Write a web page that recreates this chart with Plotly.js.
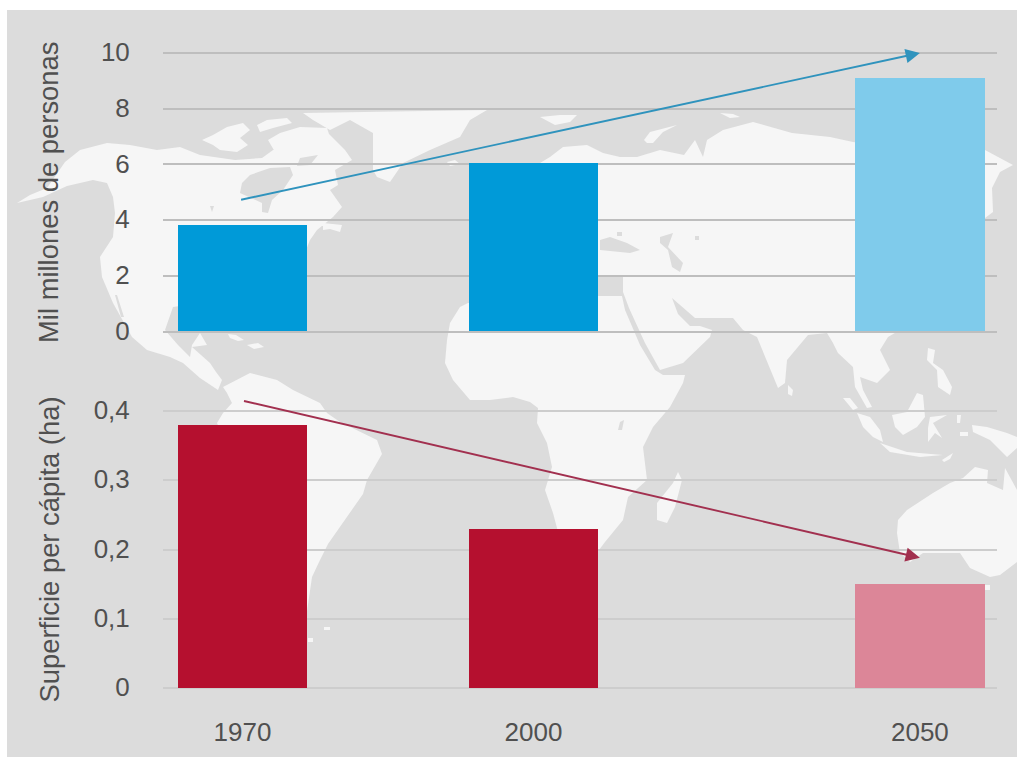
<!DOCTYPE html>
<html lang="es">
<head>
<meta charset="utf-8">
<title>Población y superficie per cápita</title>
<script src="https://cdn.plot.ly/plotly-3.0.1.min.js"></script>
<style>html,body{margin:0;padding:0;background:#fff}#chart{width:1017px;height:757px}</style>
</head>
<body>
<div id="chart"></div>
<script>
// Chart data
const years = ["1970", "2000", "2050"];
const population = [3.8, 6.05, 9.1];
const areaPerCapita = [0.38, 0.23, 0.15];
const populationColors = ["#009ad8", "#009ad8", "#7fcbeb"];
const areaColors = ["#b5102f", "#b5102f", "#dc8698"];
const populationTicks = [0, 2, 4, 6, 8, 10];
const areaTicks = [0, 0.1, 0.2, 0.3, 0.4];
const areaTickText = ["0", "0,1", "0,2", "0,3", "0,4"];
const populationTitle = "Mil millones de personas";
const areaTitle = "Superficie per cápita (ha)";

// Trend arrows, in axis units: [slot, value] at tail and tip
const populationTrend = [[-0.01, 4.72], [2.328, 10]];
const areaTrend = [[0, 0.415], [2.328, 0.188]];

// World map outlines, on a 1017 x 757 backdrop grid
const northAmerica = [[17,203],[30,195],[47,188],[65,162],[80,150],[107,143],[130,145],[157,150],[180,147],[200,155],[235,160],[262,158],[280,145],[300,133],[325,130],[345,150],[352,160],[335,170],[338,185],[330,190],[342,207],[333,217],[317,230],[310,240],[290,290],[173,307],[165,330],[178,345],[190,357],[192,345],[200,333],[207,345],[192,347],[207,360],[210,363],[216,372],[222,380],[218,390],[200,378],[183,363],[170,357],[147,350],[132,337],[113,303],[102,277],[100,257],[113,237],[115,213],[113,197],[107,183],[93,180],[67,186],[43,197]];
const greenland = [[303,113],[370,112],[487,110],[470,120],[460,137],[430,150],[403,163],[390,182],[377,177],[373,170],[373,133],[350,120],[330,130],[313,120]];
const arcticIslands = [
  [[202,140],[213,135],[227,127],[243,123],[250,130],[240,138],[248,145],[237,152],[220,150],[213,145]],
  [[257,125],[267,120],[287,118],[292,123],[273,128],[260,132]],
  [[268,140],[280,133],[300,127],[327,128],[330,137],[320,142],[337,150],[350,157],[337,163],[320,163],[310,150],[297,158],[275,152]],
  [[323,223],[342,225],[340,232],[330,229],[323,230]],
  [[228,334],[236,335],[244,340],[238,341],[230,338]],
  [[247,345],[258,343],[264,347],[254,349]]
];
const southAmerica = [[223,387],[237,380],[250,373],[277,380],[293,390],[320,403],[327,413],[340,422],[377,440],[382,454],[367,480],[363,494],[347,517],[328,544],[320,560],[312,577],[305,625],[290,625],[250,500],[217,423],[223,413],[232,403],[227,393]];
const africa = [[447,340],[450,323],[460,307],[468,303],[590,296],[622,296],[625,310],[640,345],[655,370],[663,375],[685,375],[683,383],[670,407],[653,427],[643,447],[647,480],[628,497],[623,520],[605,542],[590,562],[565,570],[557,528],[553,513],[545,490],[552,467],[547,443],[537,423],[538,408],[530,402],[513,397],[490,400],[470,400],[453,380],[445,363]];
const eurasia = [[550,157],[563,147],[587,145],[603,153],[620,157],[637,157],[660,150],[684,155],[695,140],[703,157],[707,140],[723,130],[753,122],[783,130],[792,133],[830,137],[853,142],[920,150],[985,150],[1013,165],[1000,172],[992,188],[993,212],[985,218],[960,260],[930,300],[900,330],[888,337],[880,350],[890,370],[877,383],[860,377],[863,390],[872,407],[867,408],[855,387],[853,367],[838,353],[833,343],[827,333],[808,335],[787,360],[785,383],[778,388],[768,363],[757,337],[743,330],[733,318],[714,318],[695,318],[672,298],[678,314],[690,326],[700,326],[712,330],[710,337],[683,363],[660,370],[645,343],[629,308],[623,292],[623,277],[597,277],[490,277],[480,170],[540,163]];
const asiaPacificIslands = [
  [[644,140],[650,132],[677,125],[663,132],[653,143],[647,143]],
  [[540,117],[560,115],[577,115],[570,122],[555,125]],
  [[720,113],[733,114],[740,117],[730,118]],
  [[447,162],[455,160],[460,164],[450,166]],
  [[678,472],[682,480],[675,507],[667,523],[657,520],[657,503],[673,483]],
  [[788,385],[793,390],[792,396],[788,394]],
  [[843,398],[850,398],[858,408],[853,410]],
  [[857,413],[870,417],[880,430],[883,442],[873,437],[863,427]],
  [[880,443],[907,452],[943,455],[920,457],[890,452]],
  [[892,415],[907,412],[917,393],[923,395],[925,417],[917,427],[903,435],[895,427]],
  [[930,417],[947,415],[933,423],[942,438],[935,433],[928,442],[928,428]],
  [[928,348],[935,350],[933,363],[943,370],[952,387],[950,395],[938,387],[937,370],[927,360]],
  [[957,415],[961,415],[960,423],[957,423]],
  [[960,432],[968,432],[968,436],[960,436]],
  [[942,460],[953,453],[950,459],[944,462]],
  [[972,425],[987,427],[1007,433],[1017,437],[1017,448],[1007,457],[990,440],[973,432]],
  [[985,585],[990,585],[990,590],[985,590]],
  [[324,627],[330,627],[330,630],[324,630]],
  [[308,638],[313,638],[313,642],[308,642]]
];
const australia = [[898,520],[907,510],[933,493],[950,483],[963,478],[975,467],[988,470],[987,483],[1003,490],[1005,468],[1017,490],[1017,562],[1000,575],[990,577],[970,568],[960,553],[923,553],[910,562],[900,553],[897,533]];
const inlandWater = [
  [[242,183],[250,175],[270,168],[290,167],[293,175],[283,190],[272,200],[268,213],[262,212],[262,203],[240,193]],
  [[600,240],[610,237],[627,243],[640,250],[630,253],[600,250]],
  [[617,232],[622,232],[622,236],[617,236]],
  [[660,237],[673,233],[668,247],[683,263],[680,272],[672,267],[668,250],[660,243]],
  [[695,236],[699,236],[699,240],[695,240]],
  [[115,295],[117,295],[124,317],[121,317]],
  [[210,206],[214,206],[212,212]],
  [[620,422],[624,420],[622,430],[618,430]]
];
const arcticChannels = [
  [[300,158],[318,155],[310,165],[297,166]],
  [[250,150],[264,148],[258,158],[248,157]]
];

// Joins several outlines into one trace, with gaps between them
function joinOutlines(outlines) {
  const xs = [], ys = [];
  outlines.forEach(function (outline) {
    outline.forEach(function (p) { xs.push(p[0]); ys.push(p[1]); });
    xs.push(outline[0][0]); ys.push(outline[0][1]);
    xs.push(null); ys.push(null);
  });
  return {x: xs, y: ys};
}

// Bars sit in unevenly spaced slots along the time axis
const barSlots = [0, 1, 2.328];
const slotRange = [-0.2732, 2.593];
const barWidth = 0.445;
const W = 1017, H = 757;
const plotLeft = 163 / W, plotRight = 997 / W;

const ink = "#505050";
const baseFont = {family: "Liberation Sans, Arial, sans-serif", color: ink};
const tickFont = Object.assign({}, baseFont, {size: 26});
const titleFont = Object.assign({}, baseFont, {size: 27.4});

const land = joinOutlines([northAmerica, greenland, southAmerica, africa, eurasia, australia].concat(arcticIslands, asiaPacificIslands));
const water = joinOutlines(inlandWater.concat(arcticChannels));

function mapTrace(shape, color) {
  return {type: "scatter", mode: "lines", x: shape.x, y: shape.y, xaxis: "x", yaxis: "y",
    fill: "toself", fillcolor: color, line: {width: 0, color: color}, hoverinfo: "skip", showlegend: false};
}
function barTrace(values, colors, xa, ya, name) {
  return {type: "bar", name: name, x: barSlots, y: values, width: barWidth, xaxis: xa, yaxis: ya,
    marker: {color: colors, line: {width: 0}}, customdata: years, showlegend: false,
    hovertemplate: "%{customdata}: %{y}<extra></extra>"};
}
function trendArrow(points, color, xa, ya) {
  return {x: points[1][0], y: points[1][1], ax: points[0][0], ay: points[0][1],
    xref: xa, yref: ya, axref: xa, ayref: ya, text: "", showarrow: true,
    arrowhead: 2, arrowsize: 1.5, arrowwidth: 1.9, arrowcolor: color, standoff: 0};
}
function valueAxis(ticks, range, domain, gridColor, gridWidth, anchor) {
  return {range: range, domain: domain, anchor: anchor, tickmode: "array", tickvals: ticks,
    showline: false, zeroline: false, showgrid: true, gridcolor: gridColor, gridwidth: gridWidth,
    ticks: "outside", ticklen: 27, tickcolor: "rgba(0,0,0,0)", tickfont: tickFont, ticklabelshift: -1, fixedrange: true};
}

const layout = {
  width: W, height: H,
  margin: {l: 0, r: 0, t: 0, b: 0},
  paper_bgcolor: "#ffffff",
  plot_bgcolor: "rgba(0,0,0,0)",
  showlegend: false,
  separators: ",.",
  shapes: [{type: "rect", xref: "paper", yref: "paper", x0: 7 / W, x1: 1, y0: 0, y1: 747 / H,
    fillcolor: "#dcdcdc", line: {width: 0}, layer: "below"}],
  // Backdrop map axes
  xaxis: {range: [0, W], domain: [0, 1], visible: false, fixedrange: true},
  yaxis: {range: [H, 0], domain: [0, 1], visible: false, fixedrange: true},
  // Population panel: the range runs a little past both end ticks so their gridlines are kept
  xaxis2: {range: slotRange, domain: [plotLeft, plotRight], anchor: "y2", showgrid: false, zeroline: false,
    showticklabels: false, ticks: "", fixedrange: true},
  yaxis2: Object.assign(valueAxis(populationTicks, [-0.2, 10.2], [1 - 337.07 / H, 1 - 47.43 / H], "#bebebe", 1.5, "x2"),
    {title: {text: populationTitle, font: titleFont, standoff: 34}}),
  // Area per capita panel
  xaxis3: {range: slotRange, domain: [plotLeft, plotRight], anchor: "y3", showgrid: false, zeroline: false,
    tickmode: "array", tickvals: barSlots, ticktext: years, tickfont: tickFont,
    ticks: "outside", ticklen: 14, tickcolor: "rgba(0,0,0,0)", fixedrange: true},
  yaxis3: Object.assign(valueAxis(areaTicks, [-0.01, 0.41], [1 - 694.93 / H, 1 - 404.08 / H], "#cdcdcd", 2, "x3"),
    {ticktext: areaTickText, title: {text: areaTitle, font: titleFont, standoff: 26}}),
  annotations: [
    trendArrow(populationTrend, "#2f93bd", "x2", "y2"),
    trendArrow(areaTrend, "#a2304f", "x3", "y3")
  ],
  bargap: 0
};

const traces = [
  mapTrace(land, "#f6f6f6"),
  mapTrace(water, "#dcdcdc"),
  barTrace(population, populationColors, "x2", "y2", populationTitle),
  barTrace(areaPerCapita, areaColors, "x3", "y3", areaTitle)
];

Plotly.newPlot("chart", traces, layout, {displayModeBar: false, staticPlot: false, responsive: false});
</script>
</body>
</html>
